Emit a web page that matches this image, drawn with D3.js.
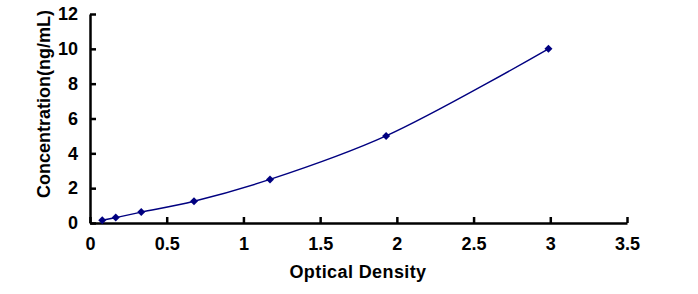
<!DOCTYPE html>
<html><head><meta charset="utf-8">
<script src="https://cdn.jsdelivr.net/npm/d3@7"></script>
<style>body{margin:0;background:#fff}svg{display:block}text{font-family:"Liberation Sans",Arial,sans-serif;font-weight:bold}</style>
</head><body>
<svg id="c" width="698" height="294"></svg>
<script>
const odValues = [0.080, 0.168, 0.334, 0.678, 1.173, 1.930, 2.988];
const concValues = [0.156, 0.312, 0.625, 1.25, 2.5, 5, 10];
const xTicks = [0, 0.5, 1, 1.5, 2, 2.5, 3, 3.5];
const yTicks = [0, 2, 4, 6, 8, 10, 12];
const xTitle = "Optical Density";
const yTitle = "Concentration(ng/mL)";

const svg = d3.select("#c");
const m = {l: 90, r: 71, t: 14, b: 71};
const W = 698, H = 294;
const x = d3.scaleLinear().domain([0, 3.5]).range([m.l, W - m.r]);
const y = d3.scaleLinear().domain([0, 12]).range([H - m.b, m.t]);

const xAxis = svg.append("g").attr("transform", `translate(0,${H - m.b})`)
  .call(d3.axisBottom(x).tickValues(xTicks).tickSizeInner(-6).tickSizeOuter(0).tickPadding(14).tickFormat(d3.format("")));
const yAxis = svg.append("g").attr("transform", `translate(${m.l},0)`)
  .call(d3.axisLeft(y).tickValues(yTicks).tickSizeInner(-6).tickSizeOuter(0).tickPadding(12));
[xAxis, yAxis].forEach(g => {
  g.select(".domain").attr("stroke", "#000").attr("stroke-width", 2.5);
  g.selectAll(".tick line").attr("stroke", "#000").attr("stroke-width", 2.5);
  g.selectAll(".tick text").attr("fill", "#000").style("font-size", "18px");
});

const pts = odValues.map((d, i) => [d, concValues[i]]);
svg.append("path").datum(pts)
  .attr("fill", "none").attr("stroke", "#000080").attr("stroke-width", 1.4)
  .attr("d", d3.line().x(d => x(d[0])).y(d => y(d[1])).curve(d3.curveCatmullRom.alpha(0.5)));

svg.selectAll(".pt").data(pts).enter().append("path")
  .attr("transform", d => `translate(${x(d[0])},${y(d[1])})`)
  .attr("d", "M0,-4L4,0L0,4L-4,0Z")
  .attr("fill", "#000080");

svg.append("text").attr("x", 358).attr("y", 278)
  .attr("text-anchor", "middle").style("font-size", "18px").style("letter-spacing", "0.4px").text(xTitle);
svg.append("text").attr("transform", `translate(50,104) rotate(-90)`)
  .attr("text-anchor", "middle").style("font-size", "18px").text(yTitle);
</script>
</body></html>
